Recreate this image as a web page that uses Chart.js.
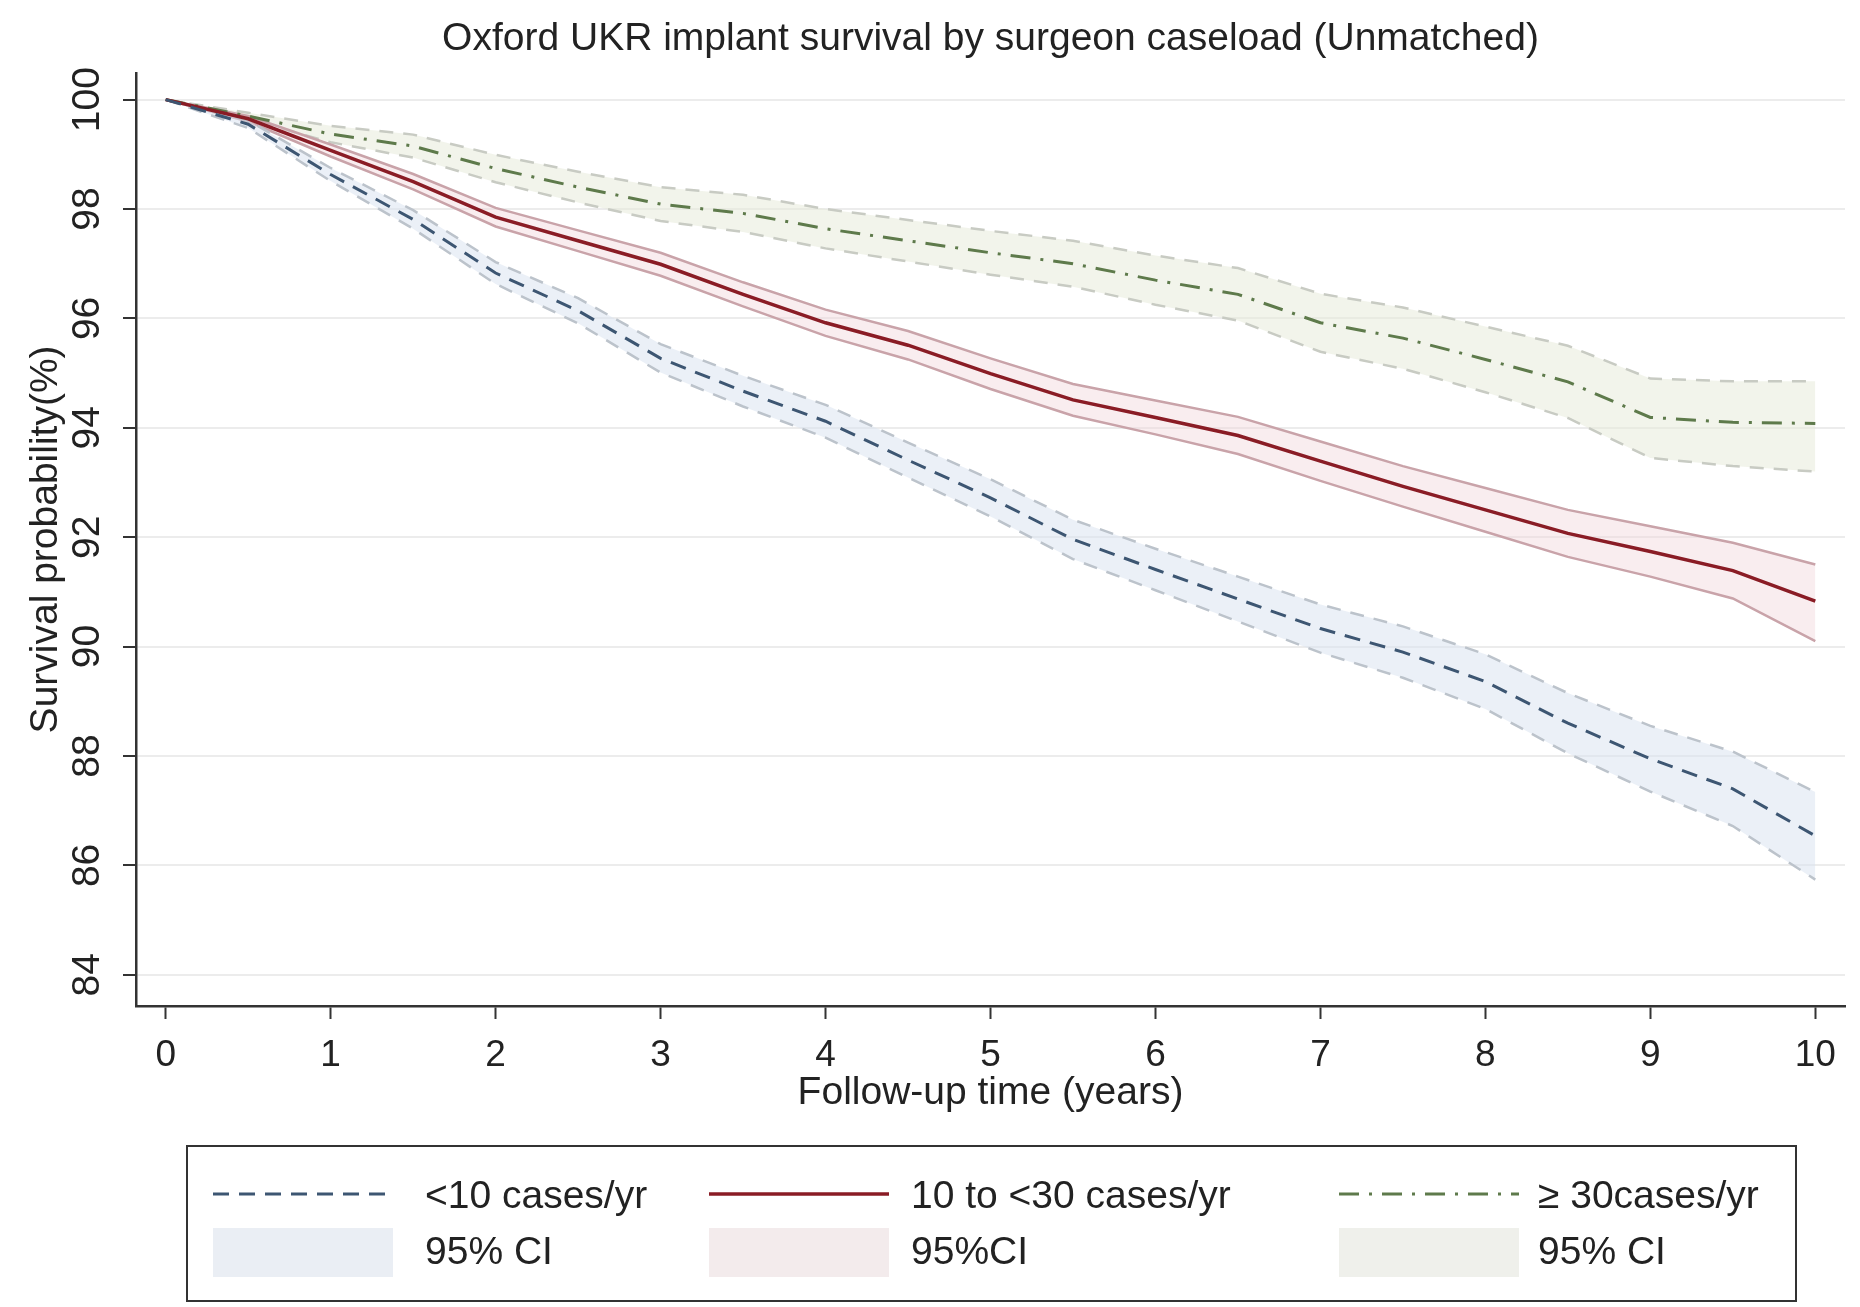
<!DOCTYPE html>
<html>
<head>
<meta charset="utf-8">
<script src="https://cdn.jsdelivr.net/npm/chart.js@4.4.1/dist/chart.umd.min.js"></script>
<style>
  html, body { margin: 0; padding: 0; background: #fff; }
  #wrap { position: relative; width: 1860px; height: 1307px; font-family: "Liberation Sans", Arial, sans-serif; color: #222; }
  #km { position: absolute; left: 0; top: 0; }
  #legend { position: absolute; left: 186px; top: 1145px; width: 1607px; height: 153px; border: 2px solid #333; box-sizing: content-box; }
  .item { position: absolute; font-size: 39px; line-height: 42px; white-space: nowrap; }
  .sample { position: absolute; }
  .patch { position: absolute; width: 180px; height: 49px; }
</style>
</head>
<body>
<div id="wrap">
  <canvas id="km" width="1860" height="1307"></canvas>
  <div id="legend"></div>
</div>
<script>
// follow-up time (years)
const years = [0, 0.5, 1, 1.5, 2, 2.5, 3, 3.5, 4, 4.5, 5, 5.5, 6, 6.5, 7, 7.5, 8, 8.5, 9, 9.5, 10];

// <10 cases/yr
const lowSurv  = [100, 99.55, 98.63, 97.81, 96.83, 96.14, 95.27, 94.67, 94.12, 93.41, 92.72, 91.96, 91.41, 90.87, 90.33, 89.90, 89.36, 88.60, 87.95, 87.40, 86.54];
const lowUpper = [100, 99.62, 98.75, 97.98, 97.03, 96.37, 95.53, 94.95, 94.42, 93.73, 93.06, 92.32, 91.79, 91.28, 90.77, 90.37, 89.86, 89.15, 88.55, 88.08, 87.34];
const lowLower = [100, 99.48, 98.51, 97.64, 96.63, 95.91, 95.01, 94.39, 93.82, 93.09, 92.38, 91.60, 91.03, 90.46, 89.89, 89.43, 88.86, 88.05, 87.35, 86.72, 85.74];

// 10 to <30 cases/yr
const midSurv  = [100, 99.65, 99.07, 98.50, 97.85, 97.42, 96.99, 96.44, 95.92, 95.51, 94.99, 94.51, 94.19, 93.86, 93.39, 92.93, 92.50, 92.07, 91.74, 91.39, 90.83];
const midUpper = [100, 99.70, 99.18, 98.64, 98.02, 97.61, 97.20, 96.66, 96.16, 95.77, 95.27, 94.80, 94.50, 94.20, 93.75, 93.30, 92.90, 92.50, 92.20, 91.90, 91.50];
const midLower = [100, 99.60, 98.96, 98.36, 97.68, 97.23, 96.78, 96.22, 95.68, 95.25, 94.71, 94.22, 93.88, 93.52, 93.03, 92.56, 92.10, 91.64, 91.28, 90.88, 90.10];

// >= 30 cases/yr
const highSurv  = [100, 99.70, 99.37, 99.15, 98.74, 98.40, 98.09, 97.92, 97.64, 97.42, 97.20, 97.00, 96.70, 96.44, 95.92, 95.64, 95.25, 94.84, 94.19, 94.10, 94.08];
const highUpper = [100, 99.76, 99.52, 99.36, 98.99, 98.68, 98.40, 98.26, 98.00, 97.80, 97.60, 97.42, 97.15, 96.92, 96.45, 96.20, 95.85, 95.50, 94.90, 94.85, 94.85];
const highLower = [100, 99.64, 99.22, 98.94, 98.49, 98.12, 97.78, 97.58, 97.28, 97.04, 96.80, 96.58, 96.25, 95.96, 95.39, 95.08, 94.65, 94.18, 93.45, 93.30, 93.20];

const xTicks = [0, 1, 2, 3, 4, 5, 6, 7, 8, 9, 10];
const yTicks = [84, 86, 88, 90, 92, 94, 96, 98, 100];

const FONT = '"Liberation Sans", Arial, sans-serif';

const pts = (vals) => years.map((t, i) => ({ x: t, y: vals[i] }));

// band = lower bound line + upper bound line filled down to it
function band(lower, upper, lineColor, fillColor, dash) {
    return [
        { data: pts(lower), borderColor: lineColor, borderWidth: 2.5, borderDash: dash, fill: false, order: 2 },
        { data: pts(upper), borderColor: lineColor, borderWidth: 2.5, borderDash: dash, fill: '-1', backgroundColor: fillColor, order: 2 }
    ];
}

const datasets = [
    ...band(lowLower, lowUpper, '#bcc3cb', 'rgba(218,228,241,0.55)', [14, 10]),
    ...band(midLower, midUpper, '#c9a3a9', 'rgba(242,214,219,0.45)', []),
    ...band(highLower, highUpper, '#c8cbc3', 'rgba(229,233,216,0.5)', [14, 10]),
    { data: pts(lowSurv), borderColor: '#3d5672', borderWidth: 3, borderDash: [16, 10], fill: false, order: 0 },
    { data: pts(midSurv), borderColor: '#8a1c25', borderWidth: 3.5, fill: false, order: 0 },
    { data: pts(highSurv), borderColor: '#5e7a4b', borderWidth: 3, borderDash: [20, 10, 3, 10], fill: false, order: 0 }
];

new Chart(document.getElementById('km'), {
    type: 'line',
    data: { datasets },
    options: {
        responsive: false,
        animation: false,
        devicePixelRatio: 1,
        layout: { padding: { left: 0, right: 15, top: 0, bottom: 190 } },
        elements: { point: { radius: 0 }, line: { tension: 0 } },
        plugins: {
            legend: { display: false },
            tooltip: { enabled: false },
            title: {
                display: true,
                fullSize: false,
                text: 'Oxford UKR implant survival by surgeon caseload (Unmatched)',
                color: '#222',
                font: { family: FONT, size: 39, weight: 'normal' },
                padding: { top: 16, bottom: 10 }
            }
        },
        scales: {
            x: {
                type: 'linear',
                min: -0.18,
                max: 10.18,
                afterBuildTicks: (s) => { s.ticks = xTicks.map(v => ({ value: v })); },
                afterFit: (s) => { s.height = 111; },
                border: { color: '#333', width: 2.5 },
                grid: { drawOnChartArea: false, drawTicks: true, tickLength: 13, tickColor: '#333', tickWidth: 2 },
                ticks: { color: '#222', font: { family: FONT, size: 37 }, padding: 15, maxRotation: 0, minRotation: 0 },
                title: {
                    display: true,
                    text: 'Follow-up time (years)',
                    color: '#222',
                    font: { family: FONT, size: 39 },
                    padding: { top: 0, bottom: 0 }
                }
            },
            y: {
                min: 83.43,
                max: 100.49,
                afterBuildTicks: (s) => { s.ticks = yTicks.map(v => ({ value: v })); },
                afterFit: (s) => { s.width = 136; },
                border: { color: '#333', width: 2.5 },
                grid: { color: '#ececec', lineWidth: 2, tickLength: 13, tickColor: '#333', tickWidth: 2 },
                ticks: { color: '#222', font: { family: FONT, size: 39 }, padding: 2, minRotation: 90, maxRotation: 90, crossAlign: 'center' },
                title: {
                    display: true,
                    text: 'Survival probability(%)',
                    color: '#222',
                    font: { family: FONT, size: 39 },
                    padding: { top: 23, bottom: 0 }
                }
            }
        }
    }
});

// legend, laid out like the Stata key (3 columns x 2 rows)
const legendItems = [
    { label: '<10 cases/yr', ci: '95% CI', color: '#3d5672', dash: '16 10', width: 3, fill: '#eaeef4', x: 25, tx: 237 },
    { label: '10 to <30 cases/yr', ci: '95%CI', color: '#8a1c25', dash: '', width: 3.5, fill: '#f3ebec', x: 521, tx: 723 },
    { label: '\u2265 30cases/yr', ci: '95% CI', color: '#5e7a4b', dash: '20 10 3 10', width: 3, fill: '#eff0eb', x: 1151, tx: 1350 }
];
const legendDiv = document.getElementById('legend');
legendItems.forEach(it => {
    const svg = document.createElementNS('http://www.w3.org/2000/svg', 'svg');
    svg.setAttribute('class', 'sample');
    svg.setAttribute('width', '180');
    svg.setAttribute('height', '10');
    svg.style.left = it.x + 'px';
    svg.style.top = '42px';
    const line = document.createElementNS('http://www.w3.org/2000/svg', 'line');
    line.setAttribute('x1', '0'); line.setAttribute('y1', '5');
    line.setAttribute('x2', '180'); line.setAttribute('y2', '5');
    line.setAttribute('stroke', it.color);
    line.setAttribute('stroke-width', it.width);
    if (it.dash) line.setAttribute('stroke-dasharray', it.dash);
    svg.appendChild(line);
    legendDiv.appendChild(svg);

    const lab = document.createElement('div');
    lab.className = 'item';
    lab.textContent = it.label;
    lab.style.left = it.tx + 'px';
    lab.style.top = '27px';
    legendDiv.appendChild(lab);

    const patch = document.createElement('div');
    patch.className = 'patch';
    patch.style.left = it.x + 'px';
    patch.style.top = '81px';
    patch.style.background = it.fill;
    legendDiv.appendChild(patch);

    const ci = document.createElement('div');
    ci.className = 'item';
    ci.textContent = it.ci;
    ci.style.left = it.tx + 'px';
    ci.style.top = '83px';
    legendDiv.appendChild(ci);
});
</script>
</body>
</html>
